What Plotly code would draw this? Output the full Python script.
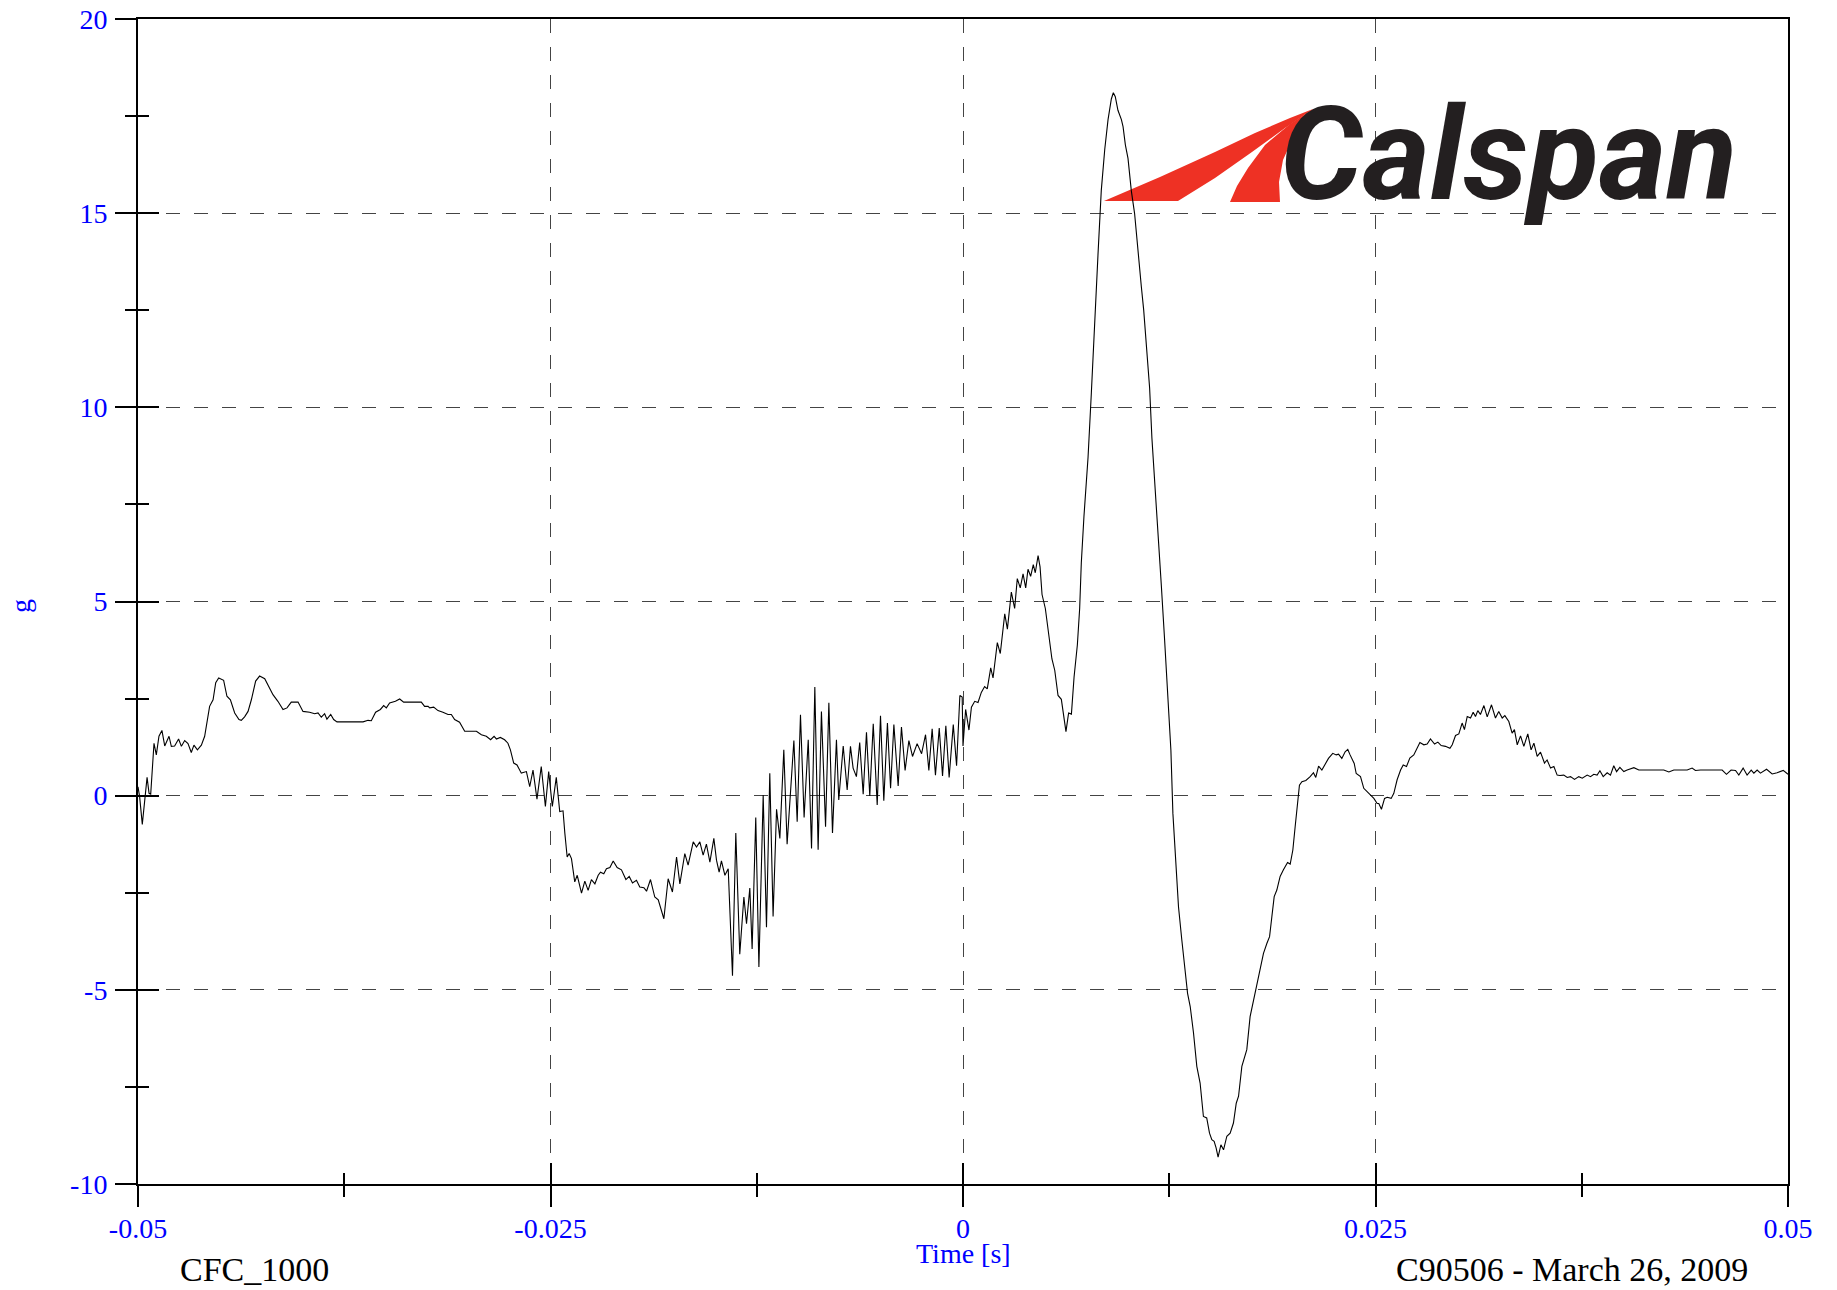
import plotly.graph_objects as go

# ---------------- data (time in ms, acceleration in g) ----------------
t_a = [-50.00,-49.90,-49.74,-49.60,-49.45,-49.33,-49.23,-49.03,-48.89,-48.73,
       -48.55,-48.38,-48.12,-47.98,-47.78,-47.54,-47.37,-47.17,-46.97,-46.77,
       -46.61,-46.40,-46.16,-45.96,-45.82,-45.66,-45.45,-45.29,-45.11,-44.81,
       -44.61,-44.40,-44.14,-43.88,-43.74,-43.54,-43.33,-43.13,-42.87,-42.63,
       -42.32,-42.06,-41.82,-41.52,-41.21,-40.97,-40.71,-40.30,-40.00,-39.60,
       -39.29,-39.09,-38.89,-38.69,-38.55,-38.32,-38.14,-37.94,-36.36,-36.06,
       -35.86,-35.60,-35.31,-35.11,-34.95,-34.75,-34.40,-34.14,-33.90,-32.83,
       -32.63,-32.42,-32.32,-32.08,-31.82,-31.52,-31.21,-31.01,-30.81,-30.51,
       -30.20,-29.49,-29.19,-28.89,-28.63,-28.42,-28.28,-28.04,-27.78,-27.58,
       -27.43,-27.23,-27.03,-26.77,-26.46,-26.26,-26.06,-25.82,-25.56,-25.31,
       -25.11,-24.89,-24.65,-24.44,-24.24]
g_a = [0.23,-0.03,-0.74,-0.11,0.47,0.06,0.04,1.35,1.05,1.53,
       1.68,1.28,1.53,1.27,1.28,1.46,1.27,1.42,1.34,1.11,
       1.30,1.18,1.30,1.53,1.87,2.30,2.47,2.91,3.03,2.97,
       2.56,2.47,2.13,1.96,1.94,2.03,2.17,2.47,2.95,3.08,
       3.01,2.78,2.60,2.43,2.22,2.26,2.41,2.41,2.17,2.15,
       2.11,2.13,2.02,2.11,1.97,2.09,1.96,1.90,1.90,1.94,
       1.93,2.15,2.22,2.32,2.26,2.39,2.43,2.49,2.41,2.41,
       2.30,2.30,2.26,2.28,2.19,2.15,2.09,2.09,1.96,1.89,
       1.66,1.66,1.57,1.53,1.44,1.53,1.46,1.50,1.44,1.35,
       1.18,0.84,0.79,0.58,0.62,0.23,0.66,-0.09,0.75,-0.28,
       0.62,-0.28,0.47,-0.41,-0.39]

t_b = [-24.13,-23.99,-23.87,-23.73,-23.53,-23.38,-23.12,-22.92,-22.72,-22.52,
       -22.31,-22.11,-21.97,-21.77,-21.61,-21.40,-21.20,-20.96,-20.70,-20.43,
       -20.23,-20.03,-19.79,-19.59,-19.34,-19.18,-18.94,-18.68,-18.47,-18.13,
       -17.87,-17.61,-17.36,-17.16,-16.86,-16.66,-16.35,-16.15,-15.95,-15.75,
       -15.55,-15.34,-15.10,-14.94,-14.78,-14.64,-14.43,-14.23,-13.97,-13.77,
       -13.53,-13.28,-13.12,-12.92,-12.78,-12.56,-12.37,-12.11,-11.91,-11.71,
       -11.51,-11.30,-11.10,-10.86,-10.66,-10.25,-10.05,-9.85,-9.63,-9.38,
       -9.18,-8.98,-8.78,-8.58,-8.33,-8.13,-7.91,-7.67,-7.53,-7.26,
       -7.02,-6.82,-6.66,-6.46,-6.26,-6.05,-5.85,-5.65,-5.44,-5.20,
       -5.00,-4.80,-4.58,-4.39,-4.19,-3.93,-3.73,-3.51,-3.28,-3.06,
       -2.78,-2.51,-2.27,-2.07,-1.87,-1.67,-1.44,-1.24,-1.04,-0.84,
       -0.59,-0.39,-0.19,-0.05]
g_b = [-0.97,-1.58,-1.49,-1.62,-2.22,-2.05,-2.51,-2.20,-2.44,-2.16,
       -2.27,-2.05,-1.97,-2.01,-1.88,-1.85,-1.68,-1.85,-1.91,-2.16,
       -2.08,-2.25,-2.18,-2.35,-2.37,-2.46,-2.16,-2.61,-2.68,-3.17,
       -2.14,-2.48,-1.58,-2.27,-1.49,-1.79,-1.19,-1.32,-1.19,-1.53,
       -1.25,-1.71,-1.10,-1.66,-1.97,-1.68,-2.05,-1.88,-4.64,-0.96,
       -4.08,-2.61,-3.30,-2.38,-3.95,-0.56,-4.41,0.02,-3.39,0.58,
       -3.11,-0.35,-1.10,1.18,-1.25,1.42,-0.67,2.08,-0.56,1.44,
       -1.36,2.80,-1.39,2.17,-0.80,2.39,-0.96,1.44,-0.11,1.28,
       0.15,1.27,0.71,0.49,1.37,0.04,1.63,-0.01,1.85,-0.24,
       2.06,-0.13,1.87,0.19,1.83,0.25,1.77,0.65,1.42,1.01,
       1.34,1.08,1.57,0.65,1.72,0.53,1.74,0.51,1.80,0.47,
       1.83,0.77,2.58,2.54]

t_c = [0.00,0.16,0.36,0.51,0.71,0.91,1.11,1.31,1.47,1.68,
       1.82,2.08,2.26,2.53,2.69,2.93,3.13,3.29,3.47,3.64,
       3.80,3.94,4.10,4.26,4.38,4.55,4.67,4.79,4.99,5.19,
       5.39,5.56,5.76,5.96,6.10,6.24,6.40,6.57,6.73,6.93,
       7.07,7.17,7.33,7.58,7.78,7.98,8.18,8.38,8.59,8.79,
       8.99,9.11,9.23,9.39,9.60,9.70,9.84,10.00,10.20,10.40,
       10.61,10.81,10.95,11.11,11.31,11.45,11.62,11.82,12.02,12.22,
       12.42]
g_c = [1.28,2.22,1.69,2.28,2.43,2.40,2.66,2.81,2.75,3.29,
       3.03,3.94,3.66,4.68,4.29,5.24,4.82,5.59,5.35,5.71,
       5.35,5.83,5.65,5.95,5.74,6.18,5.89,5.18,4.82,4.23,
       3.52,3.23,2.58,2.48,2.04,1.65,2.13,2.10,3.05,3.88,
       4.82,6.00,7.19,8.72,10.38,12.27,13.92,15.58,16.64,17.41,
       17.94,18.10,18.00,17.65,17.41,17.23,16.76,16.41,15.58,14.99,
       13.92,13.10,12.51,11.56,10.50,9.20,8.13,6.83,5.41,4.00,
       2.46]

t_d = [12.60,12.72,12.86,13.06,13.26,13.46,13.61,13.77,13.97,14.17,
       14.37,14.57,14.77,14.94,15.08,15.22,15.34,15.46,15.63,15.79,
       15.99,16.19,16.39,16.56,16.70,16.90,17.20,17.40,17.61,17.81,
       18.01,18.21,18.42,18.58,18.72,18.86,19.02,19.22,19.42,19.67,
       19.83,19.99,20.13,20.27,20.39,20.54,20.78,21.04,21.24,21.38,
       21.55,21.75,21.95,22.15,22.41,22.62,22.76,22.96,23.16,23.32,
       23.46,23.71,23.83]
g_d = [1.17,-0.45,-1.57,-2.86,-3.71,-4.57,-5.09,-5.43,-6.11,-6.97,
       -7.40,-8.26,-8.30,-8.69,-8.86,-8.90,-9.07,-9.31,-8.99,-9.12,
       -8.77,-8.69,-8.43,-7.92,-7.74,-6.97,-6.54,-5.69,-5.26,-4.83,
       -4.49,-4.06,-3.80,-3.63,-3.11,-2.60,-2.43,-2.08,-1.91,-1.72,
       -1.76,-1.40,-0.80,-0.11,0.27,0.36,0.39,0.49,0.59,0.47,
       0.76,0.66,0.83,0.96,1.09,1.05,1.07,0.96,1.13,1.19,
       1.05,0.83,0.57]

t_e = [24.09,24.29,24.60,24.90,25.10,25.20,25.36,25.55,25.71,25.95,
       26.11,26.31,26.52,26.68,26.88,27.08,27.32,27.48,27.69,27.93,
       28.13,28.33,28.58,28.78,28.98,29.24,29.51,29.65,29.85,30.05,
       30.25,30.39,30.56,30.76,30.92,31.06,31.20,31.36,31.57,31.77,
       32.03,32.27,32.47,32.68,32.84,33.08,33.28,33.42,33.59,33.79,
       33.99,34.23,34.43,34.60,34.80,35.00,35.24,35.40,35.61,35.81,
       36.01,36.17,36.41,36.62,36.82,37.06,37.32,37.53,37.83,38.03,
       38.23,38.43,38.60,38.80,39.04,39.24,39.44,39.61,39.81,40.05,
       40.25,40.66,40.96,42.47,42.78,43.08,43.89,44.19,44.39,44.70,
       46.01,46.27,46.55,46.82,47.02,47.28,47.52,47.77,47.93,48.13,
       48.33,48.70,49.04,49.34,49.71,50.00]
g_e = [0.49,0.19,0.06,-0.07,-0.20,-0.20,-0.35,-0.07,-0.04,-0.07,
       0.06,0.41,0.66,0.79,0.75,0.97,1.05,1.18,1.37,1.31,
       1.33,1.46,1.33,1.38,1.29,1.27,1.22,1.31,1.55,1.59,
       1.87,1.70,2.04,2.00,2.15,2.04,2.19,2.09,2.32,2.03,
       2.34,2.00,2.17,2.00,2.06,1.91,1.61,1.70,1.31,1.54,
       1.27,1.59,1.18,1.35,1.01,1.12,0.84,0.92,0.71,0.75,
       0.53,0.52,0.53,0.47,0.49,0.42,0.49,0.45,0.53,0.49,
       0.55,0.53,0.64,0.49,0.59,0.53,0.77,0.62,0.73,0.62,
       0.66,0.72,0.66,0.66,0.61,0.66,0.66,0.71,0.65,0.66,
       0.66,0.55,0.66,0.65,0.53,0.71,0.53,0.66,0.58,0.66,
       0.58,0.68,0.56,0.59,0.65,0.55]

x_ticks = [-0.05, -0.025, 0, 0.025, 0.05]
x_labels = ["-0.05", "-0.025", "0", "0.025", "0.05"]
x_minor = [-0.0375, -0.0125, 0.0125, 0.0375]
y_ticks = [-10, -5, 0, 5, 10, 15, 20]
y_labels = ["-10", "-5", "0", "5", "10", "15", "20"]
y_minor = [-7.5, -2.5, 2.5, 7.5, 12.5, 17.5]

time_s = [v / 1000.0 for v in (t_a + t_b + t_c + t_d + t_e)]
accel = g_a + g_b + g_c + g_d + g_e

# ---------------- figure ----------------
W, H = 1837, 1290
ML, MR, MT, MB = 138, 49, 19, 106
PW, PH = W - ML - MR, H - MT - MB

def px(x):
    return (x - ML) / PW

def py(y):
    return (H - MB - y) / PH

BLUE = "#0000FF"
SERIF = "Liberation Serif, Times New Roman, serif"

fig = go.Figure()
fig.add_trace(go.Scatter(x=time_s, y=accel, mode="lines",
                         line=dict(color="black", width=1.1),
                         showlegend=False, hoverinfo="x+y"))
fig.add_trace(go.Scatter(x=time_s, y=accel, mode="lines",
                         line=dict(color="rgba(0,0,0,0)", width=0),
                         xaxis="x2", yaxis="y2", showlegend=False,
                         hoverinfo="skip"))

grid = dict(showgrid=True, gridcolor="#444444", gridwidth=1, griddash="14px,14px")

fig.update_layout(
    width=W, height=H,
    margin=dict(l=ML, r=MR, t=MT, b=MB, pad=0, autoexpand=False),
    paper_bgcolor="white", plot_bgcolor="white",
    xaxis=dict(range=[-0.05, 0.05], tickmode="array", tickvals=x_ticks, ticktext=x_labels,
               ticks="outside", ticklen=21, tickwidth=2, tickcolor="black",
               showline=True, linewidth=2, linecolor="black", mirror=True,
               zeroline=False, ticklabelstandoff=-3, automargin=False,
               tickfont=dict(family=SERIF, size=28, color=BLUE),
               minor=dict(tickmode="array", tickvals=x_minor, ticks="outside",
                          ticklen=11, tickwidth=2, tickcolor="black", showgrid=False),
               **grid),
    yaxis=dict(range=[-10, 20], tickmode="array", tickvals=y_ticks, ticktext=y_labels,
               ticks="outside", ticklen=21, tickwidth=2, tickcolor="black",
               showline=True, linewidth=2, linecolor="black", mirror=True,
               zeroline=False, ticklabelstandoff=2, automargin=False,
               tickfont=dict(family=SERIF, size=28, color=BLUE),
               minor=dict(tickmode="array", tickvals=y_minor, ticks="outside",
                          ticklen=11, tickwidth=2, tickcolor="black", showgrid=False),
               **grid),
    xaxis2=dict(range=[-0.05, 0.05], overlaying="x", anchor="y2", side="bottom",
                tickmode="array", tickvals=x_ticks, ticks="inside", ticklen=21,
                tickwidth=2, tickcolor="black", showticklabels=False, automargin=False,
                showgrid=False, showline=False, zeroline=False,
                minor=dict(tickmode="array", tickvals=x_minor, ticks="inside",
                           ticklen=11, tickwidth=2, tickcolor="black", showgrid=False)),
    yaxis2=dict(range=[-10, 20], overlaying="y", anchor="x2", side="left",
                tickmode="array", tickvals=y_ticks, ticks="inside", ticklen=21,
                tickwidth=2, tickcolor="black", showticklabels=False, automargin=False,
                showgrid=False, showline=False, zeroline=False,
                minor=dict(tickmode="array", tickvals=y_minor, ticks="inside",
                           ticklen=11, tickwidth=2, tickcolor="black", showgrid=False)),
)

# ---------------- texts ----------------
ann = [
    dict(text="Time [s]", x=px(963), y=py(1253), font=dict(family=SERIF, size=28, color=BLUE)),
    dict(text="CFC_1000", x=px(254), y=py(1269), font=dict(family=SERIF, size=34, color="black")),
    dict(text="C90506 - March 26, 2009", x=px(1572), y=py(1269),
         font=dict(family=SERIF, size=34, color="black")),
    dict(text="g", x=px(20), y=py(606), textangle=-90, font=dict(family=SERIF, size=28, color=BLUE)),
    dict(text="<b><i>Calspan</i></b>", x=px(1508), y=py(155),
         font=dict(family="Roboto, Liberation Sans, Arial, sans-serif", size=130, color="#231F20")),
]
for a in ann:
    fig.add_annotation(xref="paper", yref="paper", showarrow=False,
                       xanchor="center", yanchor="middle", **a)

# ---------------- logo swoosh ----------------
def path(pts):
    s = "M " + " L ".join(f"{px(x):.5f},{py(y):.5f}" for x, y in pts) + " Z"
    return s

swoosh1 = [(1104, 201), (1178, 201), (1215, 178), (1252, 152), (1285, 128),
           (1313, 109), (1290, 118), (1255, 133), (1215, 152), (1160, 177)]
swoosh2 = [(1230, 202), (1280, 202), (1279, 182), (1283, 160), (1292, 140),
           (1313, 109), (1290, 124), (1265, 145), (1248, 168), (1237, 186)]
for pts in (swoosh1, swoosh2):
    fig.add_shape(type="path", xref="paper", yref="paper", path=path(pts),
                  fillcolor="#EE3124", line=dict(width=0), layer="below")

fig.write_html("out.html", config={"displayModeBar": False},
               post_script="document.body.style.margin='0';document.body.style.overflow='hidden';")
